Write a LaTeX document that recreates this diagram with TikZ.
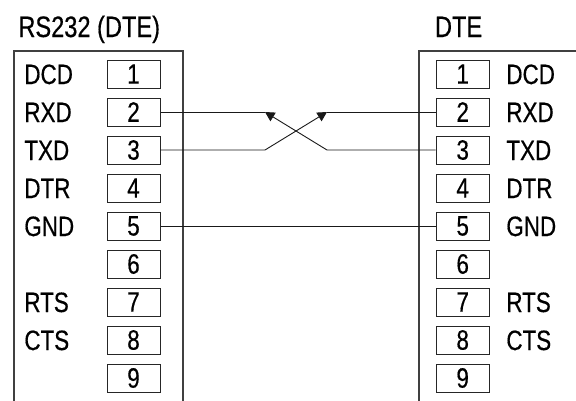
\documentclass[tikz,border=0pt]{standalone}
\usepackage{fontspec}
\setmainfont{Liberation Sans}[FakeStretch=0.8,FakeBold=0.5]
\usetikzlibrary{arrows.meta}
\begin{document}
\begin{tikzpicture}[x=1pt,y=-1pt,
  pinbox/.style={draw=black!85,line width=1pt,minimum width=53pt,minimum height=28pt,inner sep=0pt,font=\fontsize{28}{30}\selectfont},
  lbl/.style={inner sep=0pt,anchor=base west,font=\fontsize{28}{30}\selectfont},
  ttl/.style={inner sep=0pt,anchor=base west,font=\fontsize{29.5}{32}\selectfont},
  frame/.style={draw=black!75,line width=1.3pt},
  wire/.style={draw=black!90,line width=0.9pt},
  tip/.style={-{Triangle[length=9.5pt,width=10pt]}}]
\useasboundingbox (0,0) rectangle (576,400);
% outer frames
\draw[frame] (14,402) -- (14,51) -- (183,51) -- (183,402);
\draw[frame] (419,402) -- (419,51) -- (578,51);
% titles
\node[ttl] (tl) at (18.2,37) {RS232 (DTE)};
\node[ttl] (tr) at (434.8,37) {DTE};
% pins
\foreach \i in {1,...,9}{
  \node[pinbox] (L\i) at (133.5,{74+38*(\i-1)}) {\i};
  \node[pinbox] (R\i) at (462.7,{74+38*(\i-1)}) {\i};
}
% labels
\foreach \i/\t in {1/DCD,2/RXD,3/TXD,4/DTR,5/GND,7/RTS,8/CTS}{
  \node[lbl] (la\i) at (24.2,{84+38*(\i-1)}) {\t};
  \node[lbl] (ra\i) at (506.2,{84+38*(\i-1)}) {\t};
}
% wiring
\coordinate (a) at (265,112);
\coordinate (b) at (327,112);
\coordinate (c) at (265,150);
\coordinate (d) at (327,150);
\draw[wire] (L2.east) -- (a);
\draw[wire] (R2.west) -- (b);
\draw[wire,tip] (L3.east) -- (c) -- (b);
\draw[wire,tip] (R3.west) -- (d) -- (a);
\draw[wire] (L5.east) -- (R5.west);
\end{tikzpicture}
\end{document}
